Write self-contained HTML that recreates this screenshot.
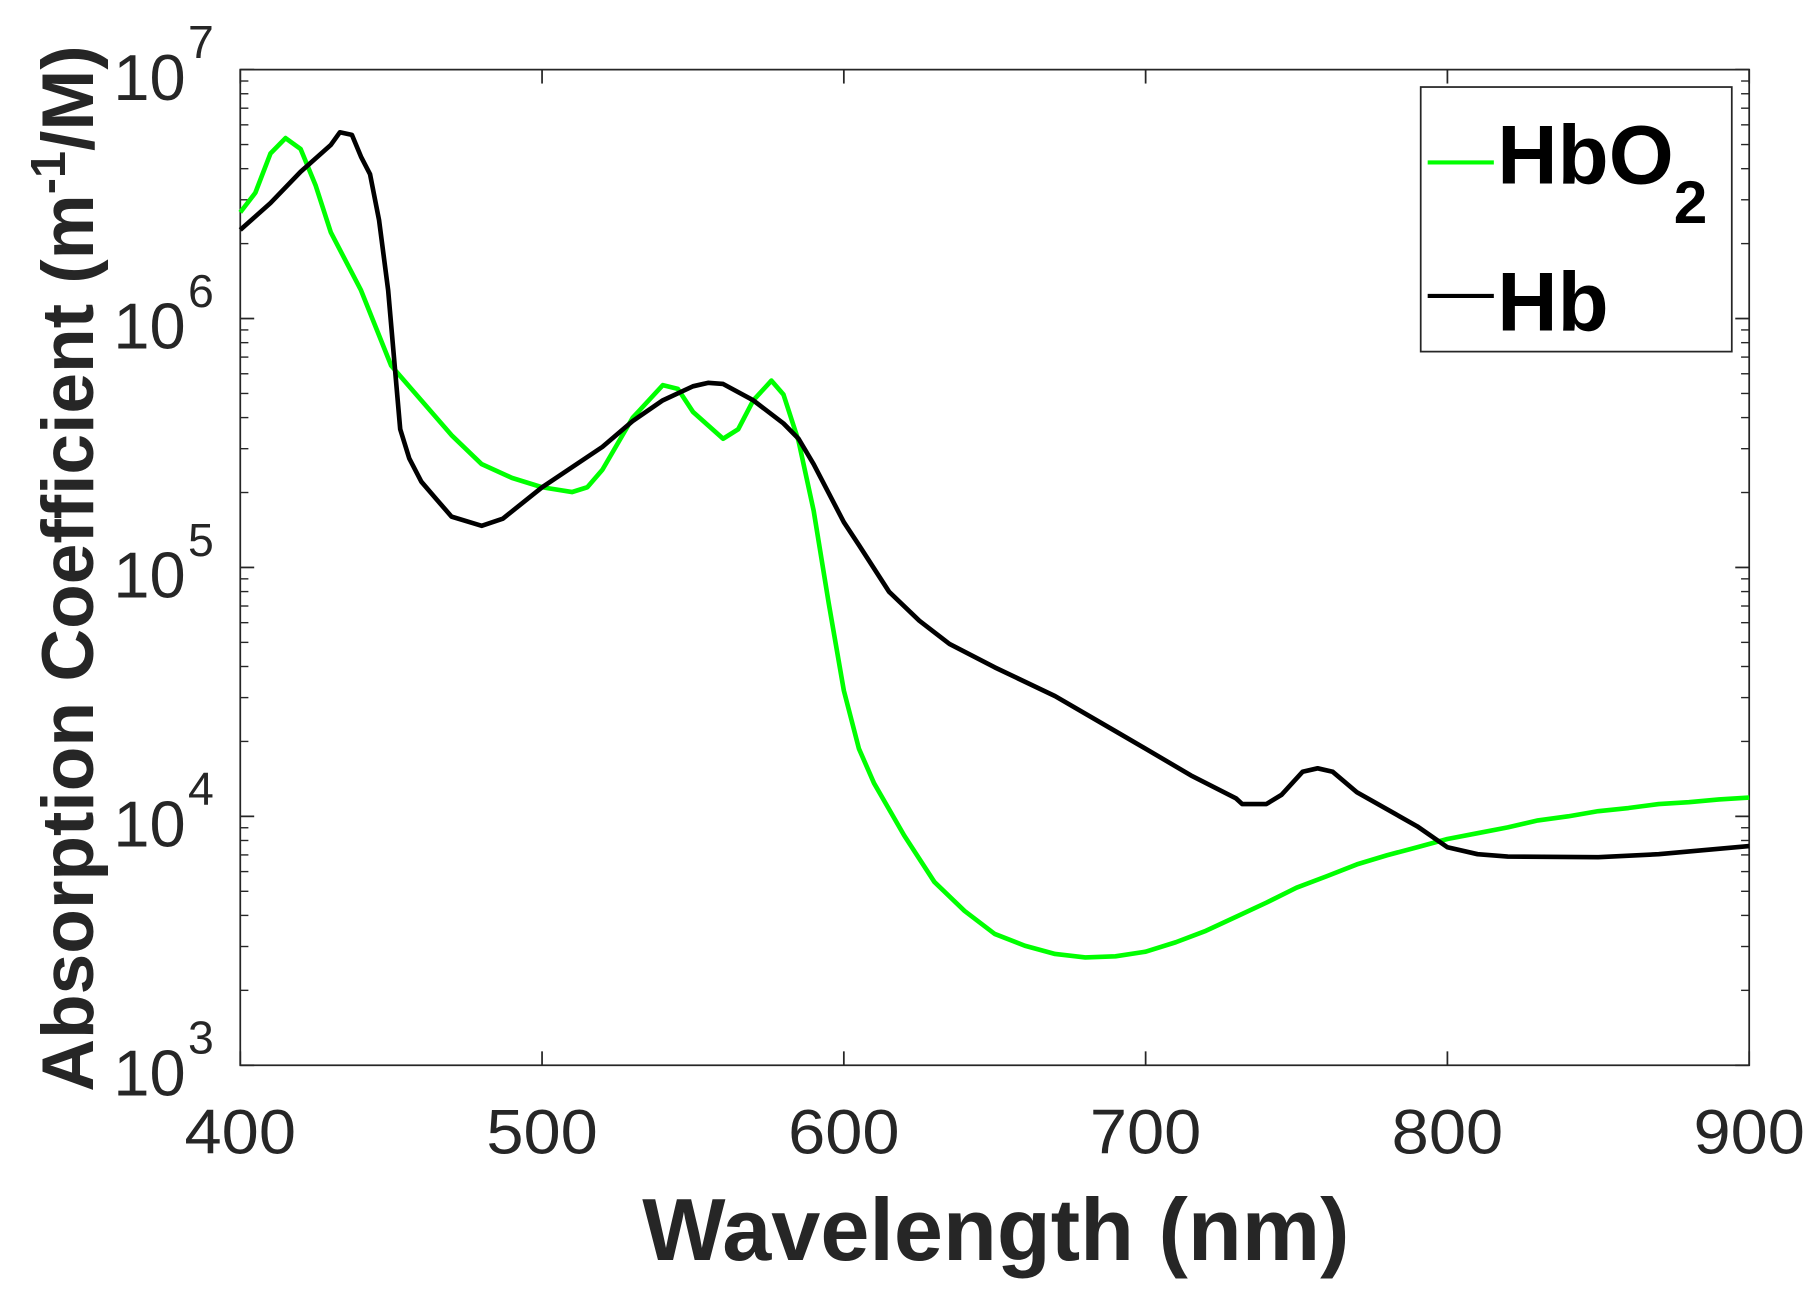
<!DOCTYPE html>
<html><head><meta charset="utf-8"><style>
html,body{margin:0;padding:0;background:#fff}
svg{display:block}
text{font-family:"Liberation Sans",Arial,sans-serif}
</style></head><body>
<svg id="chart" width="1820" height="1302" viewBox="0 0 1568 1122" preserveAspectRatio="none" xmlns="http://www.w3.org/2000/svg">
<g id="axes"></g>
<g id="series"></g>
<g id="labels">
<text transform="translate(80,490) rotate(-90)" text-anchor="middle" font-size="63" font-weight="bold" fill="#262626">Absorption Coefficient (m<tspan dy="-24" font-size="42">-1</tspan><tspan dy="24">/M)</tspan></text>
<text x="858" y="1086" text-anchor="middle" font-size="76" font-weight="bold" fill="#262626">Wavelength (nm)</text>
</g>
<g id="legend">
<rect x="1224" y="75" width="268" height="228" fill="#fff" stroke="#262626" stroke-width="1.5"/>
<line x1="1230" y1="140" x2="1287" y2="140" stroke="#00ff00" stroke-width="3.5"/>
<text x="1290" y="158" font-size="72" font-weight="bold" fill="#000">HbO<tspan dy="34" font-size="52">2</tspan></text>
<line x1="1230" y1="255" x2="1287" y2="255" stroke="#000" stroke-width="3.5"/>
<text x="1290" y="285" font-size="72" font-weight="bold" fill="#000">Hb</text>
</g>
</svg>
<script>
const xTicks = [400, 500, 600, 700, 800, 900];
const yDecades = [3, 4, 5, 6, 7];
const hbo2Wave = [400,405,410,415,420,425,430,440,450,460,470,480,490,500,510,515,520,530,540,545,550,560,565,570,576,580,585,590,595,600,605,610,620,630,640,650,660,670,680,690,700,710,720,730,740,750,760,770,780,790,800,810,820,830,840,850,860,870,880,890,900];
const hbo2Vals = [2.67e6,3.2e6,4.6e6,5.31e6,4.8e6,3.42e6,2.22e6,1.30e6,6.47e5,4.69e5,3.40e5,2.60e5,2.29e5,2.10e5,2.01e5,2.10e5,2.47e5,3.99e5,5.40e5,5.22e5,4.22e5,3.29e5,3.59e5,4.69e5,5.63e5,4.95e5,3.22e5,1.69e5,7.17e4,3.20e4,1.87e4,1.36e4,8.38e3,5.45e3,4.17e3,3.37e3,3.02e3,2.80e3,2.71e3,2.74e3,2.86e3,3.12e3,3.47e3,3.95e3,4.50e3,5.17e3,5.75e3,6.41e3,6.98e3,7.52e3,8.11e3,8.56e3,9.03e3,9.63e3,1.00e4,1.05e4,1.08e4,1.12e4,1.14e4,1.17e4,1.19e4];
const hbWave = [400,410,420,430,433,437,440,443,446,449,451,453,456,460,465,470,480,487,500,520,530,540,550,555,560,570,580,585,590,600,605,615,625,635,650,670,690,700,715,730,732,740,745,752,757,762,770,790,800,810,820,850,870,900];
const hbVals = [2.27e6,2.91e6,3.89e6,4.98e6,5.60e6,5.47e6,4.47e6,3.80e6,2.48e6,1.30e6,6.83e5,3.59e5,2.74e5,2.21e5,1.88e5,1.60e5,1.47e5,1.57e5,2.10e5,3.05e5,3.87e5,4.69e5,5.34e5,5.52e5,5.46e5,4.69e5,3.79e5,3.29e5,2.60e5,1.52e5,1.23e5,7.98e4,6.11e4,4.93e4,3.97e4,3.04e4,2.20e4,1.87e4,1.46e4,1.18e4,1.12e4,1.12e4,1.22e4,1.51e4,1.56e4,1.51e4,1.25e4,9.12e3,7.52e3,7.05e3,6.90e3,6.85e3,7.05e3,7.60e3];

const L=207,R=1507,T=60,B=918;
const xS=w=>L+(w-400)/500*(R-L);
const yS=v=>B-(Math.log10(v)-3)/4*(B-T);
const NS='http://www.w3.org/2000/svg';
function mk(tag,attrs,parent){const e=document.createElementNS(NS,tag);for(const k in attrs)e.setAttribute(k,attrs[k]);parent.appendChild(e);return e;}
const axes=document.getElementById('axes');
const box=mk('rect',{x:L,y:T,width:R-L,height:B-T,fill:'none',stroke:'#262626','stroke-width':1.5},axes);


xTicks.forEach(t=>{
  const x=xS(t);
  const a=mk('line',{x1:x,y1:B,x2:x,y2:B-12,stroke:'#262626','stroke-width':1.5},axes);
  
  
  const b=mk('line',{x1:x,y1:T,x2:x,y2:T+12,stroke:'#262626','stroke-width':1.5},axes);
  
  
  const tx=mk('text',{x:x,y:994,'text-anchor':'middle','font-size':54,fill:'#262626',textLength:96,lengthAdjust:'spacingAndGlyphs'},axes);
  tx.textContent=t;
  
  
});
yDecades.forEach(d=>{
  const y=yS(Math.pow(10,d));
  [[L,L+12],[R,R-12]].forEach(p=>{
    const a=mk('line',{x1:p[0],y1:y,x2:p[1],y2:y,stroke:'#262626','stroke-width':1.5},axes);
    
    
  });
  if(d<7){for(let m=2;m<=9;m++){const ym=yS(m*Math.pow(10,d));
    [[L,L+7],[R,R-7]].forEach(p=>{
      const a=mk('line',{x1:p[0],y1:ym,x2:p[1],y2:ym,stroke:'#262626','stroke-width':1.2},axes);
      
      
    });}}
  const tx=mk('text',{x:160,y:y+26,'text-anchor':'end','font-size':56,fill:'#262626'},axes);
  tx.textContent='10';
  
  
  const sp=mk('text',{x:162,y:y-10,'font-size':40,fill:'#262626'},axes);
  sp.textContent=d;
  
  
});
const series=document.getElementById('series');
function draw(ws,vs,color,name){
  const d=ws.map((w,i)=>(i?'L':'M')+xS(w).toFixed(1)+','+yS(vs[i]).toFixed(1)).join(' ');
  const p=mk('path',{d:d,fill:'none',stroke:color,'stroke-width':4,'stroke-linejoin':'round'},series);
  
  
}
draw(hbo2Wave,hbo2Vals,'#00ff00','hbo2-line');
draw(hbWave,hbVals,'#000000','hb-line');
</script>
</body></html>
